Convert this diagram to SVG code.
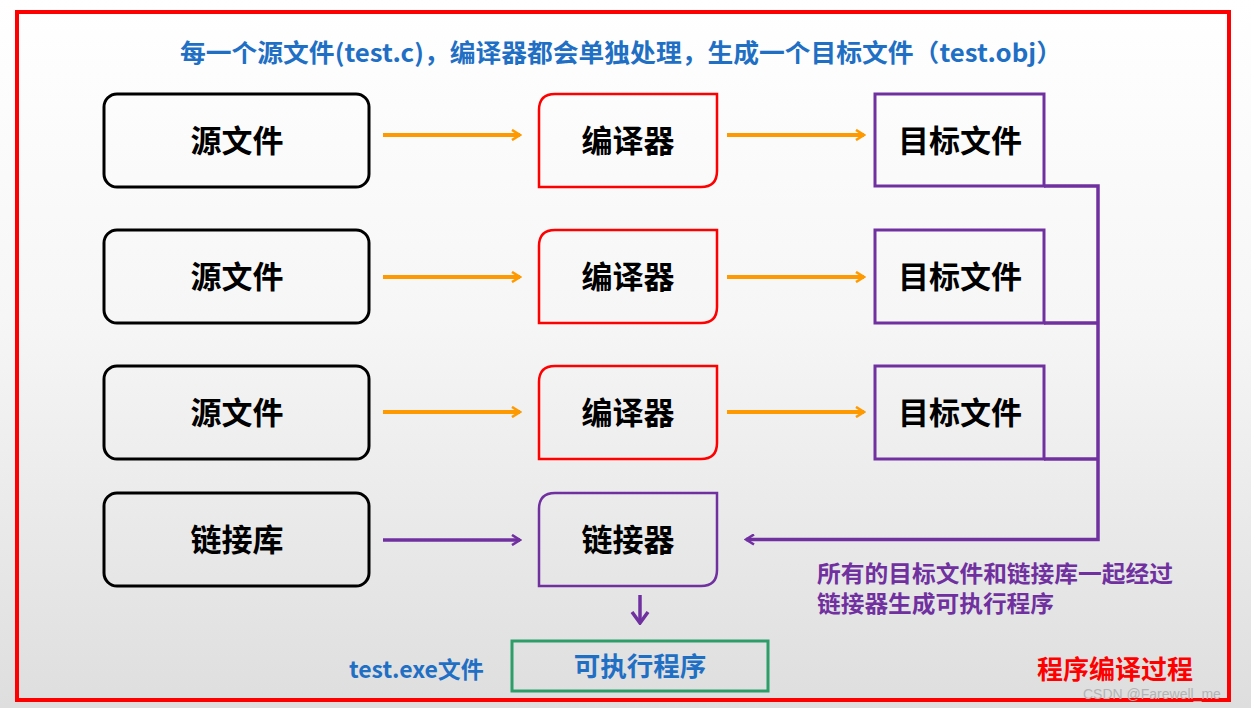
<svg xmlns="http://www.w3.org/2000/svg" width="1251" height="708" viewBox="0 0 1251 708">
<defs>
<linearGradient id="bg" x1="0" y1="0" x2="0" y2="1">
<stop offset="0" stop-color="#ffffff"/>
<stop offset="0.45" stop-color="#f6f6f6"/>
<stop offset="1" stop-color="#dedede"/>
</linearGradient>
<marker id="ao" viewBox="0 0 12 12" refX="10" refY="6" markerWidth="12" markerHeight="12" markerUnits="userSpaceOnUse" orient="auto"><path d="M2,1 L10,6 L2,11" fill="none" stroke="#ff9900" stroke-width="2.6"/></marker>
<marker id="ap" viewBox="0 0 12 12" refX="10" refY="6" markerWidth="12" markerHeight="12" markerUnits="userSpaceOnUse" orient="auto"><path d="M2,1 L10,6 L2,11" fill="none" stroke="#7030a0" stroke-width="2.6"/></marker>
<marker id="apd" viewBox="0 0 16 20" refX="14" refY="10" markerWidth="16" markerHeight="20" markerUnits="userSpaceOnUse" orient="auto"><path d="M3,2 L14,10 L3,18" fill="none" stroke="#7030a0" stroke-width="3.5"/></marker>
<style>
.t{font-family:"Noto Sans CJK SC","Liberation Sans",sans-serif;font-weight:bold}
.src{fill:none;stroke:#000;stroke-width:3}
.cmp{fill:none;stroke:#ff0000;stroke-width:2.5}
.lnk{fill:none;stroke:#7030a0;stroke-width:2.5}
.obj{fill:none;stroke:#7030a0;stroke-width:3}
.lbl{font-size:31px;fill:#000;text-anchor:middle}
.or{stroke:#ff9900;stroke-width:4;fill:none;marker-end:url(#ao)}
.pu{stroke:#7030a0;stroke-width:3.5;fill:none}
</style>
</defs>
<rect x="0" y="0" width="1251" height="708" fill="url(#bg)"/>
<rect x="17" y="12" width="1212" height="688" fill="none" stroke="#ff0000" stroke-width="4"/>
<text class="t" x="180" y="62" font-size="24.5" fill="#1f6fc5" textLength="882" lengthAdjust="spacingAndGlyphs">每一个源文件(test.c)，编译器都会单独处理，生成一个目标文件（test.obj）</text>

<g id="src1"><rect class="src" x="104" y="94" width="265" height="93" rx="13"/><text class="t lbl" x="237" y="152">源文件</text></g>
<g id="src2"><rect class="src" x="104" y="230" width="265" height="93" rx="13"/><text class="t lbl" x="237" y="288">源文件</text></g>
<g id="src3"><rect class="src" x="104" y="366" width="265" height="93" rx="13"/><text class="t lbl" x="237" y="424">源文件</text></g>
<g id="lib"><rect class="src" x="104" y="493" width="265" height="93" rx="13"/><text class="t lbl" x="237" y="551">链接库</text></g>

<g id="cmp1"><path class="cmp" d="M555,94 H717 V171 Q717,187 701,187 H539 V110 Q539,94 555,94 Z"/><text class="t lbl" x="628" y="152">编译器</text></g>
<g id="cmp2"><path class="cmp" d="M555,230 H717 V307 Q717,323 701,323 H539 V246 Q539,230 555,230 Z"/><text class="t lbl" x="628" y="288">编译器</text></g>
<g id="cmp3"><path class="cmp" d="M555,366 H717 V443 Q717,459 701,459 H539 V382 Q539,366 555,366 Z"/><text class="t lbl" x="628" y="424">编译器</text></g>
<g id="linker"><path class="lnk" d="M555,493 H717 V570 Q717,586 701,586 H539 V509 Q539,493 555,493 Z"/><text class="t lbl" x="628" y="551">链接器</text></g>

<g id="obj1"><rect class="obj" x="875" y="94" width="169" height="92"/><text class="t lbl" x="960" y="152">目标文件</text></g>
<g id="obj2"><rect class="obj" x="875" y="230" width="169" height="93"/><text class="t lbl" x="960" y="288">目标文件</text></g>
<g id="obj3"><rect class="obj" x="875" y="366" width="169" height="93"/><text class="t lbl" x="960" y="424">目标文件</text></g>

<g id="exe"><rect x="512" y="641" width="256" height="50" fill="none" stroke="#2e9e68" stroke-width="3"/><text class="t" x="640" y="676" font-size="26.5" fill="#1f6fc5" text-anchor="middle">可执行程序</text></g>

<g id="connectors">
<line class="or" x1="383" y1="135" x2="520" y2="135"/>
<line class="or" x1="383" y1="277" x2="520" y2="277"/>
<line class="or" x1="383" y1="412" x2="520" y2="412"/>
<line class="or" x1="727" y1="135" x2="864" y2="135"/>
<line class="or" x1="727" y1="277" x2="864" y2="277"/>
<line class="or" x1="727" y1="412" x2="864" y2="412"/>
<path class="pu" d="M1044,186 H1098 V539.5 H746" marker-end="url(#ap)" stroke-width="3"/>
<line class="pu" x1="1044" y1="323" x2="1098" y2="323" stroke-width="3"/>
<line class="pu" x1="1044" y1="459" x2="1098" y2="459" stroke-width="3"/>
<line class="pu" x1="383" y1="540" x2="520" y2="540" marker-end="url(#ap)"/>
<line class="pu" x1="640" y1="595" x2="640" y2="623" stroke-width="4" marker-end="url(#apd)"/>
</g>

<text class="t" x="349" y="678" font-size="23" fill="#1f6fc5">test.exe文件</text>
<text class="t" x="817" y="582" font-size="23" fill="#7030a0" textLength="356" lengthAdjust="spacingAndGlyphs">所有的目标文件和链接库一起经过</text>
<text class="t" x="817" y="612" font-size="23" fill="#7030a0" textLength="237" lengthAdjust="spacingAndGlyphs">链接器生成可执行程序</text>
<text class="t" x="1037" y="679" font-size="26" fill="#ff0000">程序编译过程</text>
<text x="1083" y="699" font-family="Liberation Sans,sans-serif" font-size="14" fill="#b4b4b4">CSDN @Farewell_me</text>
</svg>
